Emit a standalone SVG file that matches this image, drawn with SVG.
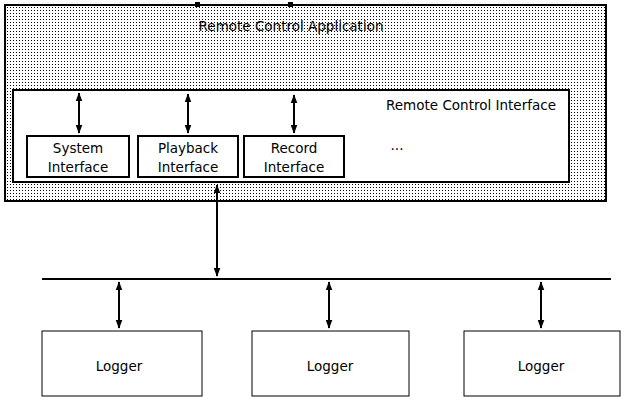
<svg xmlns="http://www.w3.org/2000/svg" width="628" height="405" viewBox="0 0 628 405">
<defs>
<pattern id="dots" width="3" height="3" patternUnits="userSpaceOnUse"><rect width="3" height="3" fill="#fff"/><rect x="1" y="1" width="1" height="1" fill="#000"/></pattern>
<marker id="ah" markerWidth="9" markerHeight="12" refX="11" refY="4.5" orient="auto-start-reverse" markerUnits="userSpaceOnUse" viewBox="0 0 12 9"><path d="M0,0 L12,4.5 L0,9 z" fill="#000"/></marker>
</defs>
<style>
.b{fill:#fff;stroke:#000;stroke-width:2}
text{font-family:"DejaVu Sans",sans-serif;font-size:13.5px;text-anchor:middle;fill:#000}
.c{stroke:#000;stroke-width:2;fill:none;marker-start:url(#ah);marker-end:url(#ah)}
</style>
<rect width="628" height="405" fill="#fff"/>
<g id="app"><rect x="5" y="5" width="601" height="196" fill="url(#dots)" stroke="#000" stroke-width="2"/>
<rect x="195" y="2" width="5" height="5" fill="#000"/><rect x="288" y="2" width="5" height="5" fill="#000"/>
<text x="291" y="31">Remote Control Application</text></g>
<g id="rci"><rect class="b" x="13" y="90" width="556" height="92"/><text x="471" y="110">Remote Control Interface</text><text x="397" y="150">...</text></g>
<g id="sys"><rect class="b" x="27" y="136" width="102" height="41"/><text x="78" y="153">System</text><text x="78" y="172">Interface</text></g>
<g id="play"><rect class="b" x="138" y="136" width="100" height="41"/><text x="188" y="153">Playback</text><text x="188" y="172">Interface</text></g>
<g id="rec"><rect class="b" x="244" y="136" width="100" height="41"/><text x="294" y="153">Record</text><text x="294" y="172">Interface</text></g>
<g id="bus"><line x1="42" y1="279" x2="611" y2="279" stroke="#000" stroke-width="2"/></g>
<g id="l1"><rect x="42" y="331" width="160" height="65" fill="#fff" stroke="#000"/><text x="119" y="371">Logger</text></g>
<g id="l2"><rect x="252" y="331" width="157" height="65" fill="#fff" stroke="#000"/><text x="330" y="371">Logger</text></g>
<g id="l3"><rect x="464" y="331" width="156" height="65" fill="#fff" stroke="#000"/><text x="541" y="371">Logger</text></g>
<g id="connectors">
<line class="c" x1="79" y1="93" x2="79" y2="133"/>
<line class="c" x1="188" y1="94" x2="188" y2="133"/>
<line class="c" x1="294" y1="95" x2="294" y2="133"/>
<line class="c" x1="217" y1="185" x2="217" y2="276"/>
<line class="c" x1="119" y1="282" x2="119" y2="328"/>
<line class="c" x1="329" y1="282" x2="329" y2="328"/>
<line class="c" x1="541" y1="282" x2="541" y2="328"/>
</g>
</svg>
